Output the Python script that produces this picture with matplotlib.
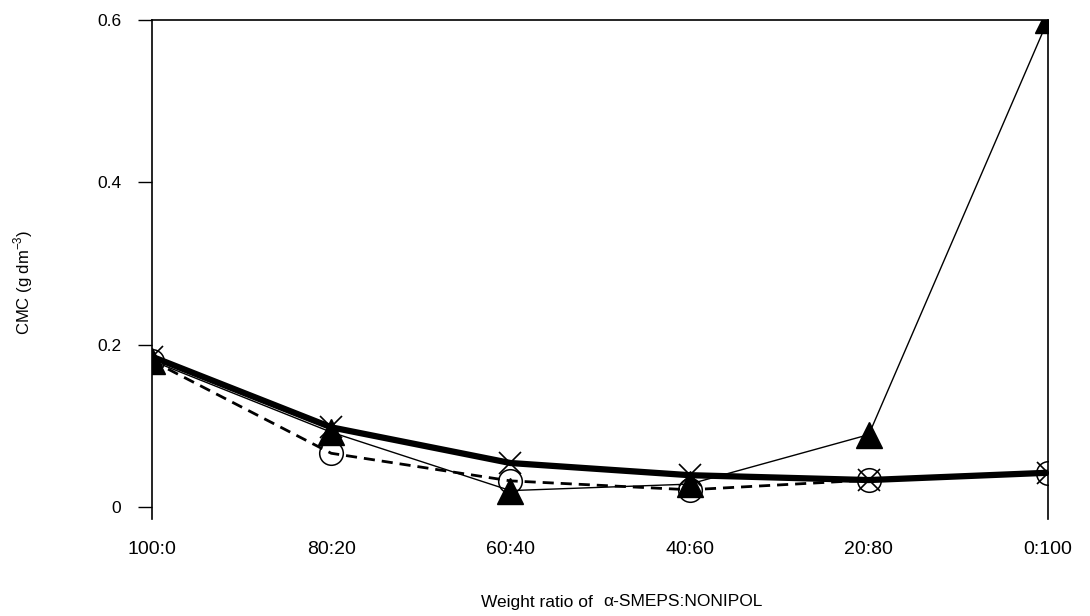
import matplotlib.pyplot as plt
import numpy as np

plt.rcParams['font.family'] = ['Liberation Sans', 'DejaVu Sans']

ratios = ['100:0', '80:20', '60:40', '40:60', '20:80', '0:100']
cmc_cross = [0.185, 0.098, 0.054, 0.039, 0.033, 0.042]
cmc_circle = [0.180, 0.066, 0.032, 0.021, 0.033, 0.042]
cmc_triangle = [0.180, 0.092, 0.020, 0.028, 0.089, 0.600]

x = np.arange(len(ratios))

fig = plt.figure(figsize=(10.9, 6.16), dpi=100)
ax = fig.add_axes([152/1090, 1 - 519/616, (1048 - 152)/1090, (519 - 20)/616])

ax.plot(x, cmc_circle, color='black', lw=2, dashes=(4, 2.5), marker='o', ms=17,
        mfc='none', mec='black', mew=1.1, zorder=3)
ax.plot(x, cmc_triangle, color='black', lw=1, marker='^', ms=19,
        mfc='black', mec='black', zorder=4)
ax.plot(x, cmc_cross, color='black', lw=4.5, zorder=5)
ax.plot(x, cmc_cross, ls='none', marker='x', ms=16, mec='black', mew=1.2, zorder=5)

ax.set_xlim(0, 5)
ax.set_ylim(-0.015, 0.6)
ax.set_yticks([0, 0.2, 0.4, 0.6])
ax.set_yticklabels(['0', '0.2', '0.4', '0.6'])
ax.set_xticks(x)
ax.set_xticklabels(ratios)
ax.tick_params(axis='y', direction='out', length=10, width=1, labelsize=12.5, pad=12)
ax.tick_params(axis='x', length=0, labelsize=14, pad=16)

ax.spines['bottom'].set_visible(False)
for s in ['left', 'right', 'top']:
    ax.spines[s].set_linewidth(1.2)

fig.text(0.021, 1 - 282/616, 'CMC (g dm$^{\\mathregular{-3}}$)', rotation=90,
         ha='center', va='center', fontsize=12)
fig.text(598/1090, 1 - 602/616, 'Weight ratio of ', ha='right', va='center', fontsize=12.5)
fig.text(603/1090, 1 - 602/616, '\u03b1-SMEPS:NONIPOL', ha='left', va='center', fontsize=12.5)

fig.savefig('out.png', dpi=100)
